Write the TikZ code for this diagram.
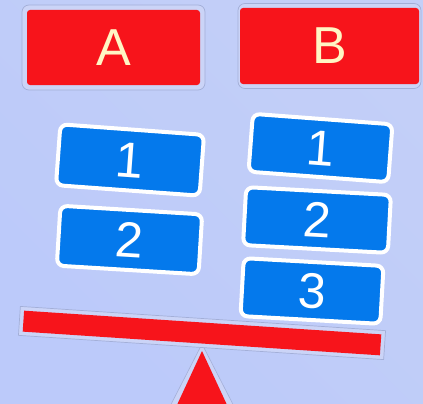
\documentclass[tikz,border=0pt]{standalone}
\usepackage{fontspec}
\setmainfont{Liberation Sans}
\usetikzlibrary{calc}
\definecolor{bgA}{HTML}{BCCAFA}
\definecolor{bgB}{HTML}{C8D3F7}
\definecolor{halo}{HTML}{CBD4F7}
\definecolor{haloline}{HTML}{A3AFD8}
\definecolor{boxred}{HTML}{F7141B}
\definecolor{boxblue}{HTML}{0479EC}
\definecolor{cream}{HTML}{FFF6C4}
\tikzset{
  redbox/.style={rectangle, fill=boxred, rounded corners=3pt, minimum width=173pt, minimum height=75pt,
    text=cream, font=\fontsize{52}{56}\selectfont, inner sep=0pt},
  redhalo/.style={rectangle, fill=halo, draw=haloline, line width=0.7pt, rounded corners=7pt,
    minimum width=183pt, minimum height=85pt},
  bluebox/.style={rectangle, fill=boxblue, draw=white, line width=4pt, rounded corners=7pt,
    text=white, font=\fontsize{50}{54}\selectfont, inner sep=0pt},
  beamstyle/.style={rectangle, fill=boxred, minimum width=358pt, minimum height=21pt, inner sep=0pt},
  beamhalo/.style={rectangle, fill=halo, draw=haloline, line width=0.7pt, minimum width=366pt, minimum height=29pt}
}
\begin{document}
\begin{tikzpicture}[x=1pt,y=-1pt]
\useasboundingbox (0,0) rectangle (423,404);
\clip (0,0) rectangle (423,404);
\shade[left color=bgA, right color=bgB, shading angle=135] (0,0) rectangle (423,404);
\fill[bgA, opacity=0.4] (0,0) rectangle (423,404);
% top boxes
\node[redhalo] (haloA) at (113.5,47.5) {};
\node[redbox] (A) at (113.5,47.5) {A};
\node[redhalo] (haloB) at (329.5,46) {};
\node[redbox, minimum width=179pt, minimum height=76pt] (B) at (329.5,46) {B};
% left blocks
\node[bluebox, minimum width=144pt, minimum height=61pt, rotate=-4.2] (L1) at (130,160) {1};
\node[bluebox, minimum width=142pt, minimum height=60pt, rotate=-3.5] (L2) at (129.5,240) {2};
% right blocks
\node[bluebox, minimum width=140pt, minimum height=58pt, rotate=-4.3] (R1) at (320.5,148) {1};
\node[bluebox, minimum width=145pt, minimum height=58pt, rotate=-3.1] (R2) at (317,220) {2};
\node[bluebox, minimum width=140pt, minimum height=58pt, rotate=-3.2] (R3) at (312,291) {3};
% triangle fulcrum
\coordinate (apex) at (202,351);
\coordinate (happex) at (202,344);
\coordinate (bl) at (170,420);
\coordinate (br) at (234,420);
\coordinate (hbl) at (163,420);
\coordinate (hbr) at (241,420);
\fill[halo] (happex) -- (hbl) -- (hbr) -- cycle;
\draw[haloline, line width=0.6pt] (happex) -- (hbl);
\draw[haloline, line width=0.6pt] (happex) -- (hbr);
\fill[boxred] (apex) -- (bl) -- (br) -- cycle;
% beam
\node[beamhalo, rotate=-3.8] (beamhalo) at (202,333) {};
\node[beamstyle, rotate=-3.8] (beam) at (202,333) {};
\end{tikzpicture}
\end{document}
